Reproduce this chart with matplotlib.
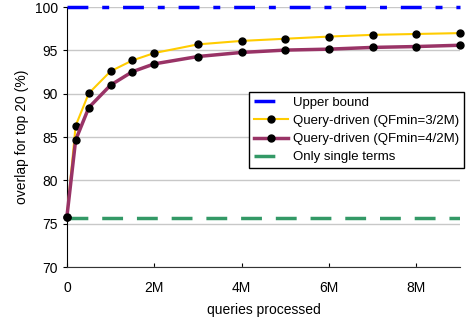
import numpy as np
import matplotlib.pyplot as plt

plt.rcParams['font.family'] = ['Liberation Sans', 'DejaVu Sans']

# queries processed (millions)
queries = [0, 0.2, 0.5, 1, 1.5, 2, 3, 4, 5, 6, 7, 8, 9]
qf_3 = [75.8, 86.3, 90.05, 92.6, 93.85, 94.7, 95.7, 96.1, 96.35, 96.6, 96.8, 96.9, 97.0]
qf_4 = [75.8, 84.65, 88.4, 91.0, 92.55, 93.45, 94.3, 94.77, 95.04, 95.15, 95.35, 95.45, 95.6]
upper_bound = 100
single_terms = 75.7
xticks = [0, 2, 4, 6, 8]
xtick_labels = ['0', '2M', '4M', '6M', '8M']

fig = plt.figure(figsize=(4.71, 3.23), dpi=100)
ax = fig.add_axes([0.142, 0.173, 0.835, 0.805])

ax.set_ylim(70, 100)
ax.set_xlim(0, 9)
ax.set_yticks([70, 75, 80, 85, 90, 95, 100])
ax.set_xticks(xticks)
ax.set_xticklabels(xtick_labels)
ax.yaxis.grid(True, color='#c8c8c8', lw=1)
ax.set_axisbelow(True)

ax.plot([0, 9], [upper_bound] * 2, color='#0000ff', lw=2.5,
        dashes=(6, 4, 2, 4), label='Upper bound', clip_on=False, zorder=3)
ax.plot(queries, qf_3, color='#ffcc00', lw=1.5, marker='o', ms=5,
        mfc='black', mec='black', label='Query-driven (QFmin=3/2M)', clip_on=False, zorder=4)
ax.plot(queries, qf_4, color='#993366', lw=2.5, marker='o', ms=5,
        mfc='black', mec='black', label='Query-driven (QFmin=4/2M)', clip_on=False, zorder=5)
ax.plot([0, 9], [single_terms] * 2, color='#339966', lw=2.5,
        dashes=(6, 4), label='Only single terms', zorder=3)

for s in ['top', 'right']:
    ax.spines[s].set_visible(False)
ax.spines['left'].set_color('black')
ax.spines['bottom'].set_color('#333333')
ax.tick_params(labelsize=10, length=3, color='black')
ax.tick_params(axis='x', direction='in', pad=10)

ax.set_xlabel('queries processed', fontsize=10, labelpad=6)
ax.set_ylabel('overlap for top 20 (%)', fontsize=10)

leg = fig.legend(loc='upper left', bbox_to_anchor=(0.529, 0.715), fontsize=9.5,
                 frameon=True, fancybox=False, edgecolor='black', framealpha=1,
                 handlelength=2.6, borderpad=0.35, labelspacing=0.45, handletextpad=0.4,
                 borderaxespad=0)
leg.get_frame().set_linewidth(1)

fig.savefig('out.png', dpi=100)
